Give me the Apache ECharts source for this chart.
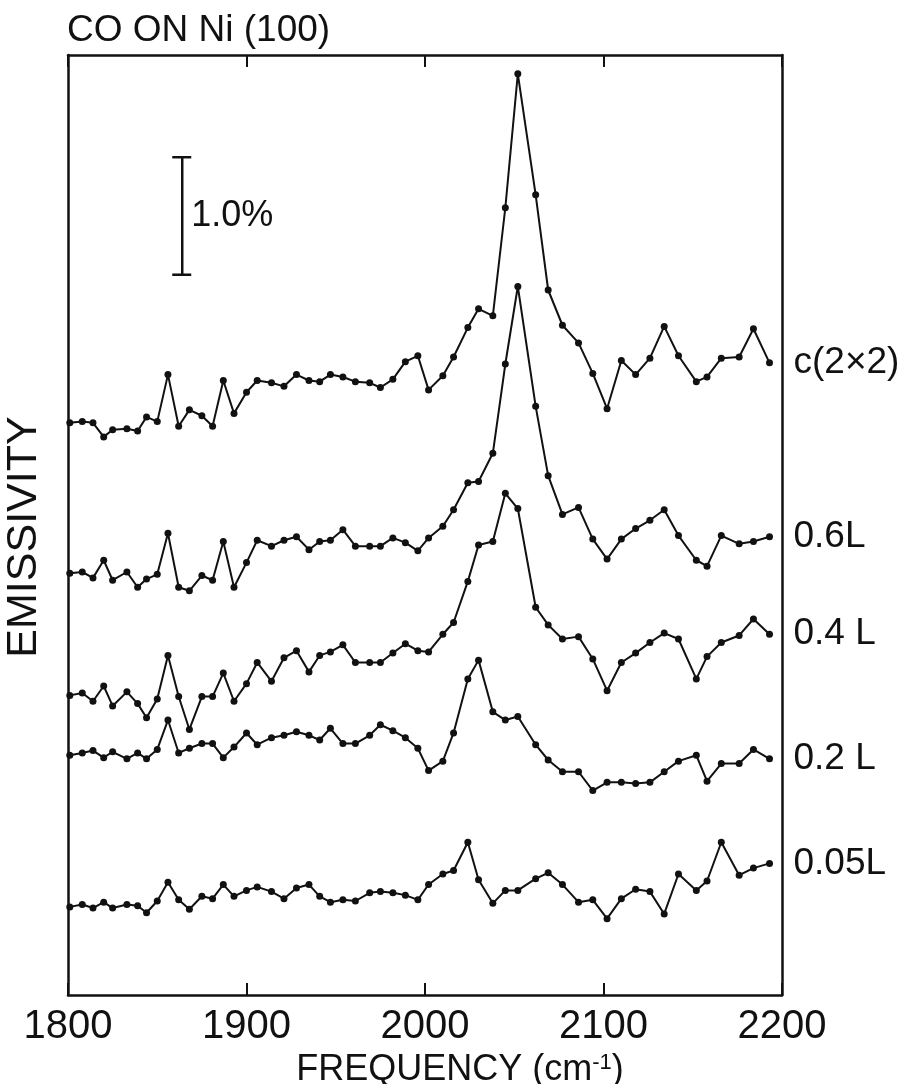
<!DOCTYPE html>
<html>
<head>
<meta charset="utf-8">
<title>CO on Ni(100)</title>
<script src="https://cdn.jsdelivr.net/npm/echarts@6/dist/echarts.min.js"></script>
<style>
  html, body { margin: 0; padding: 0; background: #fff; }
  #chart { width: 912px; height: 1084px; }
</style>
</head>
<body>
<div id="chart"></div>
<script>
//--------------------- Data ---------------------------//
// Sampling grid shared by every spectrum (cm-1)
const freq = [1801, 1808, 1814, 1820, 1825, 1833, 1839, 1844, 1850, 1856,
  1862, 1868, 1875, 1881, 1887, 1893, 1900, 1906, 1914, 1921,
  1928, 1935, 1941, 1947, 1954, 1961, 1969, 1975, 1982, 1989,
  1996, 2002, 2010, 2016, 2024, 2030, 2038, 2045, 2052, 2062,
  2069, 2077, 2086, 2094, 2102, 2110, 2118, 2126, 2134, 2142,
  2152, 2158, 2166, 2176, 2184, 2193];

// Emissivity (%) of each exposure, offset vertically as in the figure
const c2x2 = [4.87, 4.88, 4.87, 4.75, 4.81, 4.82, 4.80, 4.92, 4.88, 5.28,
  4.84, 4.98, 4.93, 4.84, 5.23, 4.95, 5.13, 5.23, 5.21, 5.18,
  5.28, 5.23, 5.22, 5.28, 5.26, 5.22, 5.21, 5.17, 5.24, 5.39,
  5.44, 5.15, 5.27, 5.43, 5.68, 5.84, 5.78, 6.70, 7.84, 6.81,
  6.00, 5.70, 5.55, 5.29, 4.99, 5.40, 5.28, 5.42, 5.69, 5.44,
  5.22, 5.26, 5.42, 5.43, 5.67, 5.38];
const exp06 = [3.59, 3.60, 3.55, 3.70, 3.53, 3.60, 3.47, 3.54, 3.58, 3.93,
  3.47, 3.44, 3.57, 3.53, 3.86, 3.47, 3.68, 3.87, 3.82, 3.87,
  3.90, 3.79, 3.86, 3.87, 3.96, 3.82, 3.82, 3.82, 3.89, 3.85,
  3.78, 3.89, 3.99, 4.13, 4.36, 4.37, 4.61, 5.37, 6.03, 5.01,
  4.42, 4.09, 4.15, 3.88, 3.71, 3.88, 3.97, 4.04, 4.13, 3.91,
  3.70, 3.65, 3.91, 3.84, 3.86, 3.90];
const exp04 = [2.55, 2.57, 2.50, 2.63, 2.46, 2.58, 2.48, 2.36, 2.52, 2.89,
  2.54, 2.26, 2.54, 2.54, 2.74, 2.50, 2.65, 2.83, 2.67, 2.87,
  2.93, 2.75, 2.89, 2.92, 2.98, 2.83, 2.83, 2.83, 2.91, 2.99,
  2.93, 2.92, 3.07, 3.17, 3.52, 3.83, 3.86, 4.27, 4.14, 3.30,
  3.15, 3.03, 3.05, 2.86, 2.59, 2.83, 2.91, 3.00, 3.08, 3.03,
  2.69, 2.88, 3.00, 3.06, 3.20, 3.07];
const exp02 = [2.04, 2.06, 2.08, 2.02, 2.07, 2.01, 2.06, 2.01, 2.09, 2.34,
  2.06, 2.10, 2.14, 2.14, 2.02, 2.11, 2.23, 2.13, 2.19, 2.21,
  2.24, 2.21, 2.17, 2.27, 2.14, 2.14, 2.21, 2.30, 2.25, 2.19,
  2.10, 1.91, 1.99, 2.23, 2.69, 2.85, 2.41, 2.34, 2.37, 2.13,
  2.00, 1.90, 1.90, 1.74, 1.81, 1.81, 1.80, 1.81, 1.90, 1.99,
  2.04, 1.82, 1.97, 1.97, 2.09, 2.01];
const exp005 = [0.75, 0.77, 0.74, 0.79, 0.74, 0.77, 0.76, 0.70, 0.80, 0.96,
  0.81, 0.73, 0.84, 0.82, 0.94, 0.84, 0.89, 0.92, 0.88, 0.82,
  0.91, 0.94, 0.84, 0.79, 0.81, 0.80, 0.87, 0.88, 0.87, 0.85,
  0.81, 0.94, 1.03, 1.06, 1.30, 0.98, 0.78, 0.89, 0.89, 0.99,
  1.04, 0.94, 0.79, 0.81, 0.65, 0.82, 0.90, 0.88, 0.69, 1.03,
  0.89, 0.97, 1.30, 1.02, 1.08, 1.12];

const seriesNames = ['c(2×2)', '0.6L', '0.4 L', '0.2 L', '0.05L'];
const seriesValues = [c2x2, exp06, exp04, exp02, exp005];

// 1.0 % scale bar: frequency where it stands, bottom value, length
const scaleBar = [1864, 6.13, 1.0];
const scaleLabel = '1.0%';

//--------------------- Chart ---------------------------//
const font = '"Liberation Sans", Arial, sans-serif';
const ink = '#111';

const chart = echarts.init(document.getElementById('chart'));

const lineSeries = seriesNames.map((name, k) => ({
  name: name,
  type: 'line',
  data: freq.map((f, i) => [f, seriesValues[k][i]]),
  symbol: 'circle',
  symbolSize: 7,
  lineStyle: { color: ink, width: 2 },
  itemStyle: { color: ink },
  endLabel: {
    show: true,
    formatter: name,
    distance: 24,
    color: ink,
    fontSize: 37,
    fontFamily: font
  },
  silent: true
}));

const barSeries = {
  type: 'custom',
  data: [[scaleBar[0], scaleBar[1], scaleBar[1] + scaleBar[2]]],
  renderItem: function (params, api) {
    const p0 = api.coord([api.value(0), api.value(1)]);
    const p1 = api.coord([api.value(0), api.value(2)]);
    const stroke = { stroke: ink, lineWidth: 2.5 };
    return {
      type: 'group',
      children: [
        { type: 'line', shape: { x1: p0[0], y1: p0[1], x2: p1[0], y2: p1[1] }, style: stroke },
        { type: 'line', shape: { x1: p0[0] - 10, y1: p0[1], x2: p0[0] + 9, y2: p0[1] }, style: stroke },
        { type: 'line', shape: { x1: p1[0] - 10, y1: p1[1], x2: p1[0] + 9, y2: p1[1] }, style: stroke },
        {
          type: 'text', x: p0[0] + 9, y: (p0[1] + p1[1]) / 2,
          style: { text: scaleLabel, fill: ink, fontSize: 36, fontFamily: font, verticalAlign: 'middle' }
        }
      ]
    };
  }
};

const frameLine = { show: true, onZero: false, lineStyle: { color: ink, width: 2.5 } };

const option = {
  animation: false,
  backgroundColor: '#fff',
  title: {
    text: 'CO ON Ni (100)',
    left: 62,
    top: 7,
    textStyle: { color: ink, fontSize: 37, fontWeight: 'normal', fontFamily: font }
  },
  grid: { left: 68, right: 130, top: 55, bottom: 89, containLabel: false, outerBoundsMode: 'none' },
  xAxis: [
    {
      type: 'value', min: 1800, max: 2200, interval: 100, position: 'bottom',
      axisLine: frameLine,
      axisTick: { show: true, inside: true, length: 12, lineStyle: { color: ink, width: 2 } },
      axisLabel: { color: ink, fontSize: 40, margin: 12, fontFamily: font, formatter: v => String(v) },
      splitLine: { show: false },
      name: '{a|FREQUENCY (cm}{s|-1}{a|)}',
      nameLocation: 'middle',
      nameGap: 55,
      nameTextStyle: {
        padding: [0, 0, 0, 70],
        rich: {
          a: { fontSize: 36, color: ink, fontFamily: font },
          s: { fontSize: 22, color: ink, fontFamily: font, verticalAlign: 'top', padding: [0, 0, 14, 0] }
        }
      }
    },
    {
      type: 'value', min: 1800, max: 2200, interval: 100, position: 'top',
      axisLine: frameLine,
      axisTick: { show: true, inside: true, length: 12, lineStyle: { color: ink, width: 2 } },
      axisLabel: { show: false },
      splitLine: { show: false }
    }
  ],
  yAxis: [
    {
      type: 'value', min: 0, max: 8, position: 'left',
      axisLine: frameLine,
      axisTick: { show: false },
      axisLabel: { show: false },
      splitLine: { show: false },
      name: 'EMISSIVITY',
      nameLocation: 'middle',
      nameGap: 22,
      nameTextStyle: { color: ink, fontSize: 43, fontFamily: font, padding: [0, 24, 0, 0] }
    },
    {
      type: 'value', min: 0, max: 8, position: 'right',
      axisLine: frameLine,
      axisTick: { show: false },
      axisLabel: { show: false },
      splitLine: { show: false }
    }
  ],
  series: lineSeries.concat([barSeries])
};

option && chart.setOption(option);
</script>
</body>
</html>
